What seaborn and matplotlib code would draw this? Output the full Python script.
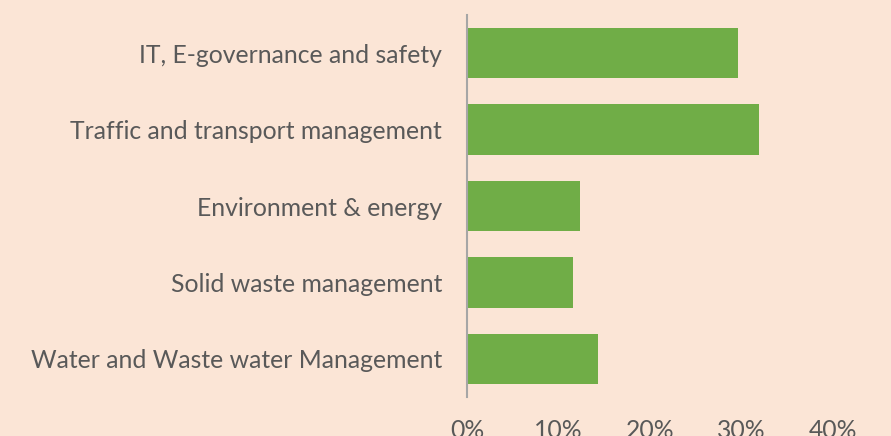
import matplotlib
matplotlib.use("Agg")
import matplotlib.pyplot as plt
import seaborn as sns
import pandas as pd
from matplotlib.ticker import PercentFormatter

categories = [
    "IT, E-governance and safety",
    "Traffic and transport management",
    "Environment & energy",
    "Solid waste management",
    "Water and Waste water Management",
]
shares = [0.296, 0.319, 0.123, 0.116, 0.143]
xticks = [0.0, 0.1, 0.2, 0.3, 0.4]

bg = "#FBE5D6"
green = "#70AD47"
text_grey = "#595959"

sns.set_theme(style="white")
plt.rcParams["font.family"] = ["Lato", "DejaVu Sans"]

df = pd.DataFrame({"category": categories, "share": shares})

W, H = 891, 436
fig = plt.figure(figsize=(W / 100, H / 100), dpi=100, facecolor=bg)
ax = fig.add_axes([467 / W, 1 - 397 / H, (833 - 467) / W, (397 - 15) / H])
ax.set_facecolor(bg)

sns.barplot(data=df, x="share", y="category", orient="h", color=green,
            width=0.66, saturation=1, linewidth=0, ax=ax)

ax.set_xlim(0, 0.4)
ax.set_ylim(4.5, -0.5)
ax.set_xticks(xticks)
ax.xaxis.set_major_formatter(PercentFormatter(1.0, decimals=0))
ax.set_xlabel("")
ax.set_ylabel("")

for s in ["top", "right", "bottom"]:
    ax.spines[s].set_visible(False)
ax.spines["left"].set_color("#A6A6A6")
ax.spines["left"].set_linewidth(1.5)

ax.tick_params(axis="x", length=0, pad=16, labelsize=17.8, labelcolor=text_grey)
ax.tick_params(axis="y", length=0, pad=18, labelsize=17.8, labelcolor=text_grey)

fig.savefig("out.png", dpi=100, facecolor=bg)
